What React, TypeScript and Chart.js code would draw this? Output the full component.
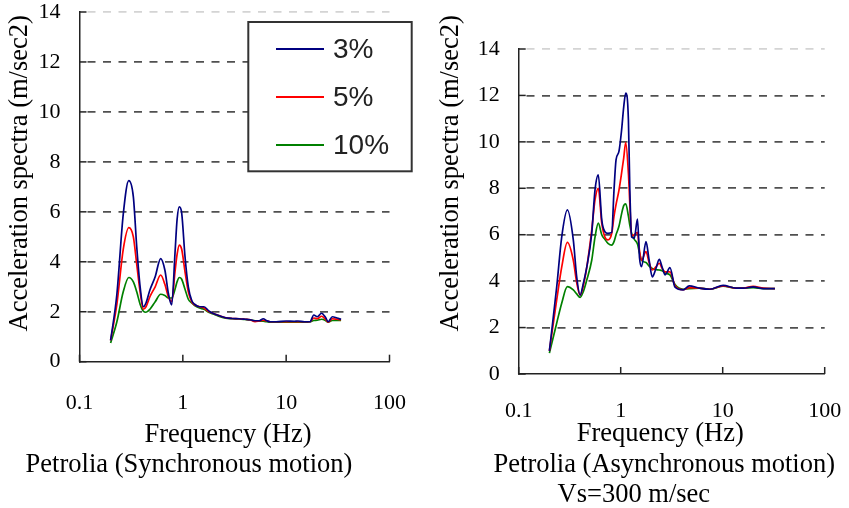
import React, { useEffect, useRef } from "react";
import { Chart, registerables } from "chart.js";

Chart.register(...registerables);

// ---------------- data ----------------
const dampingLabels = ["3%", "5%", "10%"];
const seriesColors = ["#000080", "#ff0000", "#008000"];
const xTickValues = [0.1, 1, 10, 100];
const yTickValues = [0, 2, 4, 6, 8, 10, 12, 14];

const yAxisTitle = "Acceleration spectra (m/sec2)";
const xAxisTitle = "Frequency (Hz)";
const syncCaption = ["Petrolia (Synchronous motion)"];
const asyncCaption = ["Petrolia (Asynchronous motion)", "Vs=300 m/sec"];

// Synchronous motion (left panel)
const freqSync = [
  0.2, 0.23, 0.265, 0.3, 0.332, 0.358, 0.386, 0.415, 0.44, 0.48,
  0.54, 0.61, 0.67, 0.725, 0.78, 0.84, 0.88, 0.925, 0.975, 1.05,
  1.13, 1.22, 1.3, 1.45, 1.6, 1.8, 2.0, 2.3, 2.6, 3.0,
  3.5, 4.0, 4.5, 5.0, 5.5, 6.0, 6.5, 7.0, 8.0, 10.0,
  12, 13, 15, 17, 18.5, 20, 22, 24, 25.5, 28,
  31, 34,
];
const sync3 = [
  0.85, 2.7, 5.9, 7.25, 6.6, 4.6, 3.0, 2.2, 2.35, 2.87,
  3.4, 4.13, 3.67, 2.73, 2.27, 4.35, 5.7, 6.2, 5.95, 4.2,
  3.0, 2.45, 2.3, 2.2, 2.2, 2.02, 1.92, 1.83, 1.76, 1.73,
  1.72, 1.7, 1.68, 1.64, 1.64, 1.72, 1.64, 1.6, 1.6, 1.63,
  1.62, 1.63, 1.6, 1.6, 1.87, 1.8, 1.94, 1.78, 1.6, 1.8,
  1.75, 1.7,
];
const sync5 = [
  0.85, 2.3, 4.5, 5.37, 5.0, 3.9, 2.8, 2.1, 2.2, 2.6,
  3.0, 3.47, 3.1, 2.6, 2.4, 3.6, 4.3, 4.67, 4.5, 3.6,
  2.8, 2.4, 2.28, 2.2, 2.15, 2.0, 1.92, 1.83, 1.76, 1.73,
  1.72, 1.7, 1.68, 1.6, 1.63, 1.66, 1.63, 1.6, 1.6, 1.6,
  1.6, 1.6, 1.6, 1.6, 1.75, 1.72, 1.82, 1.7, 1.58, 1.72,
  1.7, 1.68,
];
const sync10 = [
  0.75, 1.6, 2.8, 3.37, 3.2, 2.8, 2.3, 2.02, 1.98, 2.1,
  2.4, 2.7, 2.65, 2.55, 2.55, 2.9, 3.2, 3.37, 3.3, 2.9,
  2.5, 2.35, 2.25, 2.15, 2.1, 1.97, 1.9, 1.8, 1.74, 1.72,
  1.71, 1.69, 1.67, 1.64, 1.63, 1.62, 1.6, 1.58, 1.58, 1.58,
  1.58, 1.58, 1.58, 1.6, 1.65, 1.66, 1.7, 1.65, 1.58, 1.65,
  1.65, 1.65,
];

// Asynchronous motion (right panel)
const freqAsync = [
  0.2, 0.236, 0.264, 0.3, 0.343, 0.37, 0.4, 0.43, 0.465, 0.52,
  0.56, 0.603, 0.652, 0.7, 0.75, 0.817, 0.86, 0.9, 0.96, 1.02,
  1.07, 1.12, 1.19, 1.23, 1.28, 1.36, 1.46, 1.53, 1.6, 1.77,
  1.9, 2.04, 2.2, 2.39, 2.55, 2.73, 3.04, 3.41, 4.1, 4.7,
  5.9, 7.5, 10.1, 13.5, 16, 19.9, 25, 32.5,
];
const async3 = [
  1.0, 3.76, 5.9, 7.07, 5.78, 4.2, 3.4, 3.9, 4.6, 6.06,
  7.93, 8.58, 6.64, 6.13, 6.06, 6.1, 7.93, 9.22, 9.58, 10.5,
  11.5, 12.1, 10.95, 7.9, 5.9, 5.85, 6.67, 5.0, 4.62, 5.7,
  4.9, 4.18, 4.5, 4.94, 4.6, 4.27, 4.58, 3.74, 3.62, 3.8,
  3.7, 3.65, 3.82, 3.7, 3.7, 3.75, 3.68, 3.68,
];
const async5 = [
  1.0, 3.2, 4.6, 5.67, 4.9, 3.95, 3.4, 3.8, 4.6, 6.2,
  7.5, 8.0, 6.5, 5.9, 5.78, 6.06, 6.8, 7.3, 7.9, 8.65,
  9.3, 9.97, 8.65, 7.3, 5.95, 6.0, 6.1, 5.3, 4.9, 5.27,
  4.8, 4.48, 4.6, 4.77, 4.55, 4.4, 4.4, 3.8, 3.63, 3.72,
  3.7, 3.65, 3.8, 3.7, 3.7, 3.78, 3.7, 3.68,
];
const async10 = [
  0.9, 2.2, 3.05, 3.76, 3.62, 3.45, 3.3, 3.55, 4.05, 4.9,
  5.9, 6.5, 6.0, 5.8, 5.63, 5.55, 5.7, 6.0, 6.35, 6.9,
  7.25, 7.33, 6.8, 6.4, 6.05, 5.8, 5.6, 5.2, 4.9, 4.8,
  4.65, 4.55, 4.5, 4.48, 4.45, 4.35, 4.27, 3.85, 3.65, 3.68,
  3.7, 3.65, 3.78, 3.7, 3.7, 3.72, 3.68, 3.68,
];

// ---------------- styling ----------------
const SERIF = "'Liberation Serif', 'Times New Roman', serif";
const SANS = "'Liberation Sans', Arial, sans-serif";
const AXIS_COLOR = "#222";

type TextLine = { text: string; x: number; y: number };
type LegendSpec = {
  box: [number, number, number, number];
  lineX1: number;
  lineX2: number;
  textX: number;
  rowsY: number[];
};

const zeroPadding = (s: any) => {
  s.paddingTop = 0;
  s.paddingBottom = 0;
  s.paddingLeft = 0;
  s.paddingRight = 0;
};

const decorPlugin = {
  id: "decor",
  afterDatasetsDraw(chart: any, _args: any, opts: any) {
    const lg: LegendSpec | undefined = opts.legend;
    if (!lg) return;
    const ctx = chart.ctx as CanvasRenderingContext2D;
    ctx.save();
    const [bx, by, bw, bh] = lg.box;
    ctx.fillStyle = "#ffffff";
    ctx.fillRect(bx, by, bw, bh);
    ctx.strokeStyle = "#333";
    ctx.lineWidth = 2;
    ctx.strokeRect(bx, by, bw, bh);
    chart.data.datasets.forEach((ds: any, i: number) => {
      const ry = lg.rowsY[i];
      ctx.strokeStyle = ds.borderColor;
      ctx.lineWidth = 2;
      ctx.beginPath();
      ctx.moveTo(lg.lineX1, ry);
      ctx.lineTo(lg.lineX2, ry);
      ctx.stroke();
      ctx.fillStyle = "#222";
      ctx.font = `28px ${SANS}`;
      ctx.textAlign = "left";
      ctx.textBaseline = "middle";
      ctx.fillText(ds.label, lg.textX, ry + 1);
    });
    ctx.restore();
  },
  afterDraw(chart: any, _args: any, opts: any) {
    const ctx = chart.ctx as CanvasRenderingContext2D;
    const ca = chart.chartArea;
    const xs = chart.scales.x;
    const ys = chart.scales.y;
    ctx.save();
    // inward tick marks
    ctx.strokeStyle = AXIS_COLOR;
    ctx.lineWidth = 1.5;
    ys.ticks.forEach((t: any) => {
      const py = ys.getPixelForValue(t.value);
      ctx.beginPath();
      ctx.moveTo(ca.left, py);
      ctx.lineTo(ca.left + 7, py);
      ctx.stroke();
    });
    xs.ticks.forEach((t: any) => {
      const px = xs.getPixelForValue(t.value);
      ctx.beginPath();
      ctx.moveTo(px, ca.bottom);
      ctx.lineTo(px, ca.bottom - 7);
      ctx.stroke();
    });
    // titles
    ctx.fillStyle = "#000";
    ctx.font = `26.5px ${SERIF}`;
    ctx.textAlign = "center";
    ctx.textBaseline = "alphabetic";
    ctx.save();
    ctx.translate(opts.yTitle.x, opts.yTitle.y);
    ctx.rotate(-Math.PI / 2);
    ctx.fillText(opts.yTitle.text, 0, 0);
    ctx.restore();
    (opts.lines as TextLine[]).forEach((l) => ctx.fillText(l.text, l.x, l.y));
    ctx.restore();
  },
};

type PanelProps = {
  left: number;
  width: number;
  height: number;
  freq: number[];
  series: number[][];
  padTop: number;
  padRight: number;
  yAxisWidth: number;
  xAxisHeight: number;
  xTickPad: number;
  yTitle: TextLine;
  lines: TextLine[];
  legend?: LegendSpec;
};

function Panel(p: PanelProps) {
  const ref = useRef<HTMLCanvasElement>(null);
  useEffect(() => {
    if (!ref.current) return;
    const chart = new Chart(ref.current, {
      type: "line",
      data: {
        datasets: p.series.map((vals, i) => ({
          label: dampingLabels[i],
          data: p.freq.map((f, j) => ({ x: f, y: vals[j] })),
          borderColor: seriesColors[i],
          backgroundColor: seriesColors[i],
          borderWidth: 1.7,
          pointRadius: 0,
          fill: false,
          cubicInterpolationMode: "monotone",
        })),
      },
      options: {
        animation: false,
        responsive: false,
        devicePixelRatio: 1,
        layout: { padding: { top: p.padTop, right: p.padRight, left: 0, bottom: 0 } },
        plugins: {
          legend: { display: false },
          tooltip: { enabled: false },
          title: { display: false },
          decor: { yTitle: p.yTitle, lines: p.lines, legend: p.legend },
        } as any,
        scales: {
          x: {
            type: "logarithmic",
            min: 0.1,
            max: 100,
            afterBuildTicks: (s: any) => {
              s.ticks = xTickValues.map((v) => ({ value: v }));
            },
            afterFit: (s: any) => {
              s.height = p.xAxisHeight;
              zeroPadding(s);
            },
            grid: { display: false, drawTicks: false },
            border: { display: true, color: AXIS_COLOR, width: 1.5 },
            ticks: {
              autoSkip: false,
              maxRotation: 0,
              padding: p.xTickPad,
              color: "#000",
              font: { family: SERIF, size: 22 },
              callback: (v: any) => String(v),
            },
          },
          y: {
            type: "linear",
            min: 0,
            max: 14,
            afterBuildTicks: (s: any) => {
              s.ticks = yTickValues.map((v) => ({ value: v }));
            },
            afterFit: (s: any) => {
              s.width = p.yAxisWidth;
              zeroPadding(s);
            },
            grid: {
              drawTicks: false,
              lineWidth: 1.8,
              color: (c: any) =>
                c.tick && c.tick.value === 14
                  ? "#d4d4d4"
                  : c.tick && c.tick.value === 0
                  ? "rgba(0,0,0,0)"
                  : "#505050",
            },
            border: { display: true, color: AXIS_COLOR, width: 1.5, dash: [8, 7.5], dashOffset: -7 },
            ticks: {
              padding: 19,
              color: "#000",
              font: { family: SERIF, size: 22 },
              callback: (v: any) => String(v),
            },
          },
        },
      } as any,
      plugins: [decorPlugin],
    });
    return () => chart.destroy();
  }, []);
  return (
    <canvas
      ref={ref}
      width={p.width}
      height={p.height}
      style={{ position: "absolute", left: p.left, top: 0, width: p.width, height: p.height }}
    />
  );
}

export default function App() {
  useEffect(() => {
    document.body.style.margin = "0";
  }, []);
  return (
    <div
      style={{
        position: "fixed",
        left: 0,
        top: 0,
        width: 849,
        height: 508,
        background: "#fff",
        overflow: "hidden",
      }}
    >
      <Panel
        left={0}
        width={420}
        height={508}
        freq={freqSync}
        series={[sync3, sync5, sync10]}
        padTop={12}
        padRight={30.5}
        yAxisWidth={79.5}
        xAxisHeight={146.3}
        xTickPad={28.5}
        yTitle={{ text: yAxisTitle, x: 26.5, y: 173.3 }}
        lines={[
          { text: xAxisTitle, x: 228, y: 441.7 },
          { text: syncCaption[0], x: 189, y: 471.7 },
        ]}
        legend={{
          box: [248.3, 22, 163.4, 149.3],
          lineX1: 276,
          lineX2: 324,
          textX: 333,
          rowsY: [49, 97, 145],
        }}
      />
      <Panel
        left={420}
        width={429}
        height={508}
        freq={freqAsync}
        series={[async3, async5, async10]}
        padTop={49}
        padRight={24.3}
        yAxisWidth={98.7}
        xAxisHeight={134}
        xTickPad={24.5}
        yTitle={{ text: yAxisTitle, x: 38.3, y: 173.3 }}
        lines={[
          { text: xAxisTitle, x: 240.3, y: 440.7 },
          { text: asyncCaption[0], x: 244.3, y: 471.7 },
          { text: asyncCaption[1], x: 213.8, y: 501.7 },
        ]}
      />
    </div>
  );
}
